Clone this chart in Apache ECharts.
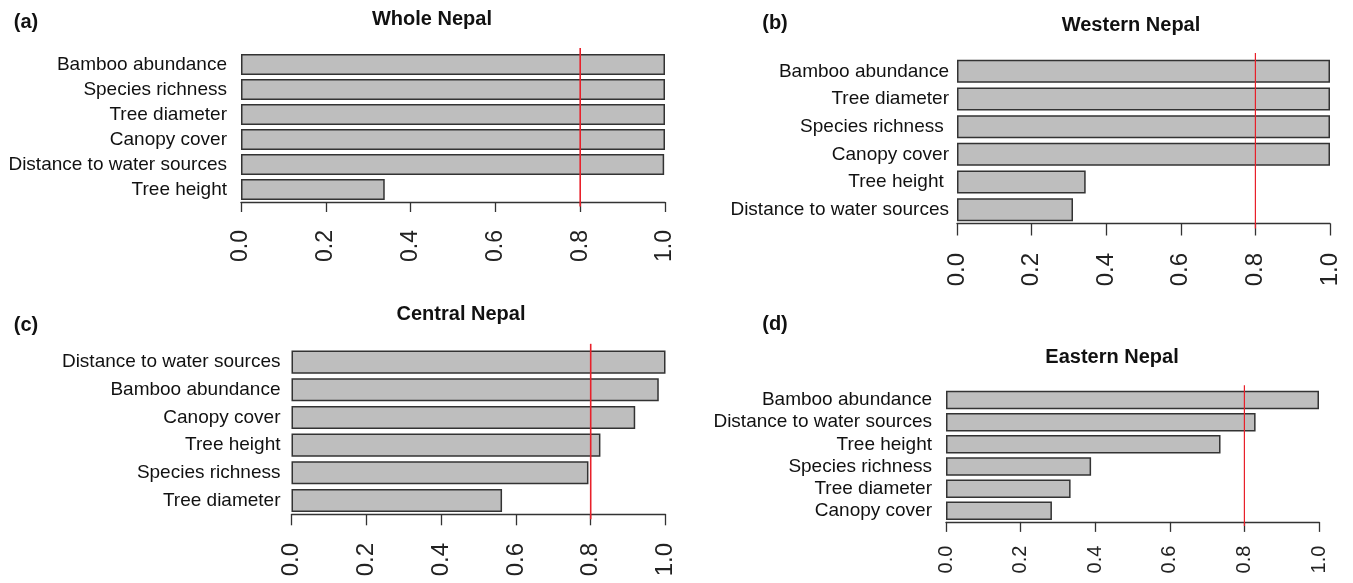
<!DOCTYPE html>
<html>
<head>
<meta charset="utf-8">
<script src="https://cdn.jsdelivr.net/npm/echarts@6/dist/echarts.min.js"></script>
<style>
  html, body { margin: 0; padding: 0; background: #fff; }
  #chart { width: 1353px; height: 583px; }
</style>
</head>
<body>
<div id="chart"></div>
<script>
  // data, listed top to bottom as drawn
  const wholeCats = ['Bamboo abundance', 'Species richness', 'Tree diameter', 'Canopy cover', 'Distance to water sources', 'Tree height'];
  const wholeVals = [1, 1, 1, 1, 0.998, 0.339];
  const westCats = ['Bamboo abundance', 'Tree diameter', 'Species richness ', 'Canopy cover', 'Tree height ', 'Distance to water sources'];
  const westVals = [1, 1, 1, 1, 0.345, 0.311];
  const centralCats = ['Distance to water sources', 'Bamboo abundance', 'Canopy cover', 'Tree height', 'Species richness', 'Tree diameter'];
  const centralVals = [1, 0.982, 0.919, 0.826, 0.794, 0.563];
  const eastCats = ['Bamboo abundance', 'Distance to water sources', 'Tree height', 'Species richness', 'Tree diameter', 'Canopy cover'];
  const eastVals = [1, 0.83, 0.736, 0.389, 0.334, 0.284];
  const threshold = 0.8;
  const panelTitles = ['Whole Nepal', 'Western Nepal', 'Central Nepal', 'Eastern Nepal'];
  const panelTags = ['(a)', '(b)', '(c)', '(d)'];

  const FONT = '"Liberation Sans", Arial, Helvetica, sans-serif';

  // layout of each panel (px)
  const panels = [
    { cats: wholeCats, vals: wholeVals, left: 241, top: 52, width: 424, height: 150,
      offset: 5, tick: 10, tickFont: 23, tickMargin: 23, catMargin: 14, redW: 1.6,
      titleX: 432, titleY: 19, tagX: 26, tagY: 22 },
    { cats: westCats, vals: westVals, left: 957, top: 57.5, width: 373, height: 166,
      offset: 4.5, tick: 12, tickFont: 24, tickMargin: 25, catMargin: 8, redW: 1.2,
      titleX: 1131, titleY: 25, tagX: 775, tagY: 23 },
    { cats: centralCats, vals: centralVals, left: 291.5, top: 348.3, width: 374, height: 166,
      offset: 4.6, tick: 11, tickFont: 24, tickMargin: 24, catMargin: 11, redW: 1.6,
      titleX: 461, titleY: 314, tagX: 26, tagY: 325 },
    { cats: eastCats, vals: eastVals, left: 946, top: 388.9, width: 373, height: 133,
      offset: 3.7, tick: 10, tickFont: 20, tickMargin: 20, catMargin: 14, redW: 1.2,
      titleX: 1112, titleY: 357, tagX: 775, tagY: 324 }
  ];

  let grid = [], xAxis = [], yAxis = [], series = [], graphic = [];
  panels.forEach((p, i) => {
    grid.push({ left: p.left, top: p.top, width: p.width, height: p.height, containLabel: false });
    xAxis.push({
      type: 'value', gridIndex: i, min: 0, max: 1, interval: 0.2, offset: p.offset,
      splitLine: { show: false },
      axisLine: { show: true, lineStyle: { color: '#333', width: 1.3 } },
      axisTick: { show: true, length: p.tick, lineStyle: { color: '#333', width: 1.3 } },
      axisLabel: {
        rotate: 90, margin: p.tickMargin, fontSize: p.tickFont, color: '#222', fontFamily: FONT,
        formatter: v => v.toFixed(1)
      }
    });
    yAxis.push({
      type: 'category', gridIndex: i, data: p.cats, inverse: true,
      axisLine: { show: false }, axisTick: { show: false },
      axisLabel: { interval: 0, fontSize: 19, color: '#111', margin: p.catMargin, fontFamily: FONT }
    });
    // hidden value axis so the threshold line can run a little past the bars, like R's abline
    yAxis.push({ type: 'value', gridIndex: i, min: 0, max: 1, show: false });
    series.push({
      type: 'bar', xAxisIndex: i, yAxisIndex: 2 * i, data: p.vals,
      barCategoryGap: '16.7%', silent: true,
      itemStyle: { color: '#bebebe', borderColor: '#333', borderWidth: 1.5 }
    });
    series.push({
      type: 'line', xAxisIndex: i, yAxisIndex: 2 * i + 1, clip: false, silent: true,
      symbol: 'none', data: [[threshold, -0.03], [threshold, 1.027]],
      lineStyle: { color: '#e8202a', width: p.redW }, z: 5
    });
    graphic.push({
      type: 'text', x: p.titleX, y: p.titleY,
      style: { text: panelTitles[i], font: 'bold 20px ' + FONT, fill: '#111', textAlign: 'center', textVerticalAlign: 'middle' }
    });
    graphic.push({
      type: 'text', x: p.tagX, y: p.tagY,
      style: { text: panelTags[i], font: 'bold 20px ' + FONT, fill: '#111', textAlign: 'center', textVerticalAlign: 'middle' }
    });
  });

  const myChart = echarts.init(document.getElementById('chart'));
  myChart.setOption({
    animation: false,
    backgroundColor: '#fff',
    textStyle: { fontFamily: FONT },
    grid: grid,
    xAxis: xAxis,
    yAxis: yAxis,
    series: series,
    graphic: graphic
  });
</script>
</body>
</html>
